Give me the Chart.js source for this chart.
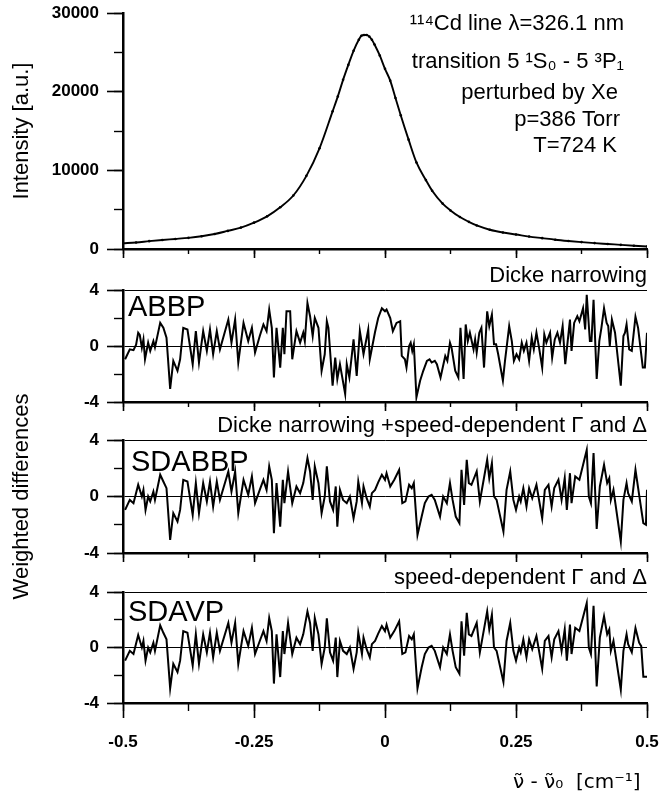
<!DOCTYPE html>
<html lang="en">
<head>
<meta charset="UTF-8" />
<title>114Cd line profile and weighted differences</title>
<script src="https://cdn.jsdelivr.net/npm/chart.js"></script>
<style>
  html, body { margin: 0; padding: 0; background: #fff; overflow: hidden; }
  #wrap { position: relative; width: 660px; height: 791px; }
  #wrap canvas { position: absolute; left: 0; }
</style>
</head>
<body>
<div id="wrap">
  <canvas id="c1" width="660" height="262" style="top:0px"></canvas>
  <canvas id="c2" width="660" height="160" style="top:255px"></canvas>
  <canvas id="c3" width="660" height="270" style="top:360px"></canvas>
  <canvas id="c4" width="660" height="250" style="top:550px"></canvas>
</div>

<script>
  // ---- data ----
  // measured line profile, x in cm^-1, intensity in a.u.
  const profileX = [-0.500,-0.475,-0.450,-0.425,-0.400,-0.375,-0.350,-0.325,-0.300,-0.275,
    -0.250,-0.225,-0.200,-0.175,-0.150,-0.125,-0.100,-0.090,-0.080,-0.070,-0.060,-0.050,
    -0.045,-0.040,-0.035,-0.030,-0.025,-0.020,-0.010,0.000,0.010,0.020,0.030,0.045,0.060,
    0.078,0.090,0.110,0.125,0.143,0.160,0.175,0.200,0.225,0.250,0.275,0.300,0.325,0.350,
    0.375,0.400,0.425,0.450,0.475,0.500];
  const profileY = [730,830,1000,1150,1280,1420,1620,1900,2300,2720,
    3350,4150,5300,6800,9300,12800,17500,19400,21500,23400,25200,26600,
    27100,27200,27200,27000,26600,26000,24600,22900,21400,19200,17000,13900,11000,
    8760,7400,5770,4900,4060,3450,2990,2450,2100,1850,1580,1380,1180,1020,
    880,750,640,530,420,320];

  // weighted differences [x, residual]
  const abbp = [[-0.496,-0.95],[-0.487,-0.24],[-0.480,-0.3],[-0.475,0.1],[-0.471,0.95],[-0.468,0.8],[-0.464,-0.12],[-0.461,0.47],[-0.458,-0.95],[-0.452,0.24],[-0.448,-0.35],[-0.442,0.35],[-0.439,-0.1],[-0.429,1.65],[-0.423,1.3],[-0.417,0.59],[-0.410,-3.07],[-0.404,-1.06],[-0.396,-1.77],[-0.391,-0.95],[-0.385,1.3],[-0.377,1.18],[-0.367,-1.3],[-0.361,1.06],[-0.355,-1.18],[-0.347,1.06],[-0.340,-0.35],[-0.334,1.18],[-0.328,-0.59],[-0.321,1.06],[-0.315,-0.24],[-0.299,1.89],[-0.293,0.24],[-0.286,1.89],[-0.280,-1.18],[-0.270,1.65],[-0.261,0.35],[-0.254,1.3],[-0.248,-0.47],[-0.239,0.71],[-0.232,1.54],[-0.226,1.06],[-0.221,2.6],[-0.216,1.3],[-0.212,-2.25],[-0.207,1.3],[-0.200,-1.54],[-0.195,1.3],[-0.192,-0.59],[-0.188,2.48],[-0.181,2.48],[-0.177,-0.95],[-0.169,1.06],[-0.162,0.24],[-0.156,0.95],[-0.153,0.35],[-0.148,3.07],[-0.143,2.13],[-0.138,0.71],[-0.134,2.0],[-0.127,1.3],[-0.121,-1.77],[-0.115,-0.59],[-0.111,1.77],[-0.108,1.3],[-0.100,-2.84],[-0.095,-0.83],[-0.091,-2.36],[-0.086,-1.3],[-0.076,-3.43],[-0.073,-1.3],[-0.068,-2.25],[-0.060,0.47],[-0.054,-2.13],[-0.048,1.06],[-0.041,-0.59],[-0.032,1.18],[-0.029,-0.95],[-0.019,1.0],[-0.013,2.0],[-0.006,2.7],[0.000,2.48],[0.003,2.6],[0.010,2.0],[0.015,1.06],[0.022,1.65],[0.029,1.77],[0.032,-0.71],[0.038,-0.95],[0.041,-1.54],[0.046,0.0],[0.049,0.24],[0.052,-0.35],[0.055,0.12],[0.060,-3.66],[0.067,-2.48],[0.073,-1.77],[0.080,-1.06],[0.085,-0.95],[0.089,-1.18],[0.095,-1.06],[0.099,-1.3],[0.106,-2.25],[0.115,-0.71],[0.119,-1.06],[0.124,0.24],[0.127,-0.12],[0.134,-1.77],[0.140,-2.25],[0.144,1.3],[0.150,-2.36],[0.154,1.54],[0.158,0.35],[0.162,0.95],[0.169,-0.24],[0.172,0.47],[0.175,-0.47],[0.180,0.95],[0.184,1.3],[0.189,-1.54],[0.195,2.48],[0.199,1.42],[0.204,2.25],[0.208,0.12],[0.212,0.12],[0.216,-0.59],[0.225,-2.48],[0.229,-1.06],[0.237,1.42],[0.242,0.35],[0.246,-1.06],[0.251,-0.59],[0.256,-0.95],[0.261,0.24],[0.265,-0.35],[0.270,0.24],[0.275,-1.06],[0.280,0.59],[0.284,-0.24],[0.289,0.95],[0.294,-0.12],[0.300,-1.54],[0.304,0.83],[0.308,0.24],[0.315,0.95],[0.319,-0.83],[0.324,0.47],[0.329,0.95],[0.334,0.24],[0.339,1.42],[0.344,-1.3],[0.353,1.89],[0.356,-0.35],[0.361,1.65],[0.367,2.13],[0.371,1.77],[0.378,2.7],[0.382,1.18],[0.385,3.66],[0.391,0.35],[0.394,0.35],[0.398,3.3],[0.404,-2.36],[0.409,0.35],[0.413,1.3],[0.418,2.7],[0.423,1.65],[0.426,1.42],[0.429,0.0],[0.433,1.89],[0.439,0.95],[0.450,-2.84],[0.455,0.71],[0.458,0.95],[0.461,1.54],[0.466,-0.24],[0.471,-0.35],[0.478,2.1],[0.483,1.3],[0.492,-1.54],[0.496,-1.54],[0.500,0.95]];

  const sdabbp = [[-0.496,-0.95],[-0.487,-0.24],[-0.480,-0.47],[-0.471,0.83],[-0.464,0],[-0.461,0.47],[-0.457,-0.95],[-0.452,0],[-0.448,-0.35],[-0.442,0.35],[-0.439,-0.24],[-0.429,1.54],[-0.423,1.06],[-0.417,0.59],[-0.410,-3.07],[-0.404,-1.18],[-0.396,-1.77],[-0.391,-0.95],[-0.385,1.18],[-0.377,1.06],[-0.367,-1.3],[-0.361,0.95],[-0.355,-1.18],[-0.347,0.95],[-0.340,-0.35],[-0.334,1.06],[-0.328,-0.71],[-0.321,1.06],[-0.315,-0.24],[-0.299,1.77],[-0.293,0.35],[-0.286,1.77],[-0.280,-1.18],[-0.270,1.18],[-0.261,0.12],[-0.254,1.42],[-0.248,-0.47],[-0.239,0.47],[-0.232,1.18],[-0.226,0.47],[-0.221,2.13],[-0.216,1.18],[-0.212,-2.6],[-0.207,0.95],[-0.200,-2.13],[-0.195,1.18],[-0.192,-0.47],[-0.185,1.77],[-0.177,-0.47],[-0.169,0.71],[-0.162,0.24],[-0.156,0.95],[-0.148,2.72],[-0.143,1.77],[-0.138,-0.24],[-0.134,2.13],[-0.127,0.95],[-0.121,-1.18],[-0.115,0],[-0.111,2.13],[-0.105,-0.35],[-0.099,-0.95],[-0.094,0.71],[-0.091,-2.13],[-0.086,0.47],[-0.080,-0.24],[-0.073,-0.47],[-0.067,0],[-0.060,-1.54],[-0.054,-0.35],[-0.051,1.06],[-0.044,-0.47],[-0.041,0.71],[-0.035,-0.12],[-0.029,-0.71],[-0.025,0.24],[-0.019,0.47],[-0.013,1.0],[-0.006,1.54],[0.000,1.18],[0.003,1.65],[0.010,0.71],[0.018,1.2],[0.027,1.89],[0.033,-0.47],[0.039,-0.35],[0.046,0.83],[0.051,0.59],[0.055,0.95],[0.062,-2.72],[0.070,-1.42],[0.076,-0.47],[0.083,0],[0.089,0.12],[0.095,-0.24],[0.105,-1.42],[0.111,0],[0.118,-0.47],[0.124,0.95],[0.129,-0.24],[0.135,-1.42],[0.142,-1.89],[0.146,1.89],[0.151,-0.59],[0.156,2.6],[0.160,0.95],[0.165,0.83],[0.175,1.77],[0.181,-0.35],[0.195,2.6],[0.199,1.3],[0.204,2.36],[0.208,0],[0.213,-0.24],[0.226,-2.48],[0.232,0.47],[0.239,1.77],[0.245,-0.24],[0.250,-0.95],[0.256,0],[0.259,-0.35],[0.264,0.59],[0.270,-0.71],[0.275,0.59],[0.281,-0.12],[0.289,0.83],[0.300,-1.54],[0.305,0.47],[0.312,0.83],[0.318,-0.71],[0.323,0.59],[0.331,1.18],[0.337,-0.24],[0.343,1.3],[0.347,-0.95],[0.353,1.65],[0.356,-0.47],[0.363,1.42],[0.371,1.18],[0.385,3.3],[0.389,0],[0.393,-0.47],[0.398,3.07],[0.404,-2.3],[0.410,0.71],[0.418,2.25],[0.424,0.95],[0.428,1.3],[0.431,-0.24],[0.436,0.47],[0.450,-3.2],[0.455,-0.24],[0.461,0.95],[0.464,0.24],[0.471,-0.35],[0.478,1.89],[0.485,0.12],[0.493,-1.89],[0.498,-2.0],[0.500,0.47]];

  const sdavp = [[-0.496,-0.95],[-0.487,-0.24],[-0.480,-0.47],[-0.471,0.9],[-0.464,0],[-0.461,0.47],[-0.457,-0.95],[-0.452,0],[-0.448,-0.35],[-0.442,0.35],[-0.439,-0.24],[-0.429,1.6],[-0.423,1.06],[-0.417,0.59],[-0.410,-2.95],[-0.404,-1.18],[-0.396,-1.77],[-0.391,-0.95],[-0.385,1.18],[-0.377,1.06],[-0.367,-1.3],[-0.361,0.95],[-0.355,-1.18],[-0.347,0.95],[-0.340,-0.35],[-0.334,1.06],[-0.328,-0.71],[-0.321,1.06],[-0.315,-0.24],[-0.299,1.77],[-0.293,0.35],[-0.286,1.77],[-0.280,-1.18],[-0.270,1.18],[-0.261,0.12],[-0.254,1.42],[-0.248,-0.47],[-0.239,0.47],[-0.232,1.18],[-0.226,0.47],[-0.221,2.13],[-0.216,1.18],[-0.212,-2.6],[-0.207,0.95],[-0.200,-2.13],[-0.195,1.18],[-0.192,-0.47],[-0.185,1.77],[-0.177,-0.47],[-0.169,0.71],[-0.162,0.24],[-0.156,0.95],[-0.148,2.6],[-0.143,1.77],[-0.138,-0.24],[-0.134,2.13],[-0.127,0.95],[-0.121,-1.18],[-0.115,0],[-0.111,2.1],[-0.105,-0.35],[-0.099,-0.95],[-0.094,0.71],[-0.091,-2.13],[-0.086,0.47],[-0.080,-0.24],[-0.073,-0.47],[-0.067,0],[-0.060,-1.54],[-0.054,-0.35],[-0.051,1.06],[-0.044,-0.47],[-0.041,0.71],[-0.035,-0.12],[-0.029,-0.71],[-0.025,0.24],[-0.019,0.47],[-0.013,1.0],[-0.006,1.54],[0.000,1.18],[0.003,1.65],[0.010,0.71],[0.018,1.2],[0.027,1.89],[0.033,-0.47],[0.039,-0.35],[0.046,0.83],[0.051,0.59],[0.055,0.95],[0.062,-2.95],[0.070,-1.42],[0.076,-0.47],[0.083,0],[0.089,0.12],[0.095,-0.24],[0.105,-1.42],[0.111,0],[0.118,-0.47],[0.124,0.95],[0.129,-0.24],[0.135,-1.42],[0.142,-1.89],[0.146,1.89],[0.151,-0.59],[0.156,2.5],[0.160,0.95],[0.165,0.83],[0.175,1.77],[0.181,-0.35],[0.195,2.6],[0.199,1.3],[0.204,2.36],[0.208,0],[0.213,-0.24],[0.226,-2.48],[0.232,0.47],[0.239,1.77],[0.245,-0.24],[0.250,-0.95],[0.256,0],[0.259,-0.35],[0.264,0.59],[0.270,-0.71],[0.275,0.59],[0.281,-0.12],[0.289,0.83],[0.300,-1.54],[0.305,0.47],[0.312,0.83],[0.318,-0.71],[0.323,0.59],[0.331,1.18],[0.337,-0.24],[0.343,1.3],[0.347,-0.95],[0.353,1.65],[0.356,-0.47],[0.363,1.42],[0.371,1.18],[0.385,3.2],[0.389,0],[0.393,-0.47],[0.398,3.0],[0.404,-2.8],[0.410,0.71],[0.418,2.25],[0.424,0.95],[0.428,1.3],[0.431,-0.24],[0.436,0.47],[0.450,-3.05],[0.455,-0.24],[0.461,0.95],[0.464,0.24],[0.471,-0.35],[0.478,1.4],[0.485,0.35],[0.489,0.1],[0.493,-2.1],[0.500,-2.1]];

  const xTicksMajor = 0.25, xTicksMinor = 0.125;

  // ---- shared look ----
  const FONT = '"Liberation Sans", Arial, Helvetica, sans-serif';
  Chart.defaults.font.family = FONT;
  Chart.defaults.color = '#000';

  const fmtX = v => (Math.abs(v) < 1e-9 ? '0' : String(+v.toFixed(2)));

  // text drawn inside / around a panel, relative to the chart area
  function textPlugin(items) {
    return {
      id: 'panelText',
      afterDraw(chart) {
        const { ctx, chartArea } = chart;
        ctx.save();
        ctx.fillStyle = '#000';
        ctx.textBaseline = 'middle';
        items.forEach(t => {
          ctx.font = t.size + 'px ' + FONT;
          ctx.textAlign = t.align;
          const x = t.align === 'right' ? chartArea.right + t.dx : chartArea.left + t.dx;
          ctx.fillText(t.text, x, chartArea.top + t.dy);
        });
        ctx.restore();
      }
    };
  }

  // fixed axis boxes so the four panels line up exactly
  function fixX(h) {
    return s => { s.height = h; s.paddingLeft = 0; s.paddingRight = 0; };
  }
  function fixY(w) {
    return s => { s.width = w; s.paddingTop = 0; s.paddingBottom = 0; };
  }

  function xScales(bottom, height) {
    return {
      x: {
        type: 'linear', position: 'bottom', weight: 1, min: -0.5, max: 0.5,
        border: { display: true, width: 2.5, color: '#000' },
        grid: { drawOnChartArea: false, tickLength: bottom ? 15 : 9, tickColor: '#000', tickWidth: 1.6 },
        ticks: { stepSize: xTicksMajor, display: bottom, autoSkip: false, padding: 14,
                 font: { size: 17, weight: 'bold' }, callback: fmtX },
        title: bottom
          ? { display: true, text: 'ν̃ - ν̃₀  [cm⁻¹] ', align: 'end',
              font: { size: 20, family: '"DejaVu Sans", sans-serif' }, padding: { top: 0, bottom: 5 } }
          : { display: false },
        afterFit: fixX(height)
      },
      x2: {
        type: 'linear', position: 'bottom', weight: 0, min: -0.5, max: 0.5,
        border: { display: false },
        grid: { drawOnChartArea: false, tickLength: bottom ? 8 : 5, tickColor: '#000', tickWidth: 1.4 },
        ticks: { stepSize: xTicksMinor, display: false },
        afterFit: fixX(0)
      }
    };
  }

  function yScales(min, max, major, minor, gridAt, title) {
    return {
      y: {
        type: 'linear', position: 'left', weight: 1, min: min, max: max,
        border: { display: true, width: 2.5, color: '#000' },
        grid: {
          drawOnChartArea: gridAt.length > 0,
          color: c => (c.tick && gridAt.includes(c.tick.value)) ? '#000' : 'rgba(0,0,0,0)',
          lineWidth: 1, tickLength: 16, tickColor: '#000', tickWidth: 1.6
        },
        ticks: { stepSize: major, padding: 8, font: { size: 17, weight: 'bold' }, callback: v => String(v) },
        title: title
          ? { display: true, text: title, font: { size: 22 }, padding: { top: 9, bottom: 0 } }
          : { display: false },
        afterFit: fixY(123)
      },
      y2: {
        type: 'linear', position: 'left', weight: 0, min: min, max: max,
        border: { display: false },
        grid: { drawOnChartArea: false, tickLength: 9, tickColor: '#000', tickWidth: 1.4 },
        ticks: { stepSize: minor, display: false },
        afterFit: fixY(0)
      }
    };
  }

  const toPoints = pairs => pairs.map(p => ({ x: p[0], y: p[1] }));

  // ---- panel 1: line profile ----
  new Chart(document.getElementById('c1'), {
    type: 'line',
    data: {
      datasets: [{
        data: profileX.map((x, i) => ({ x: x, y: profileY[i] })),
        borderColor: '#000', borderWidth: 1.9,
        pointRadius: 1.3, pointBackgroundColor: '#000', pointBorderWidth: 0,
        cubicInterpolationMode: 'monotone'
      }]
    },
    options: {
      responsive: false, animation: false,
      layout: { padding: { top: 13, right: 13, left: 0, bottom: 0 } },
      plugins: { legend: { display: false }, tooltip: { enabled: false } },
      scales: Object.assign(xScales(false, 13), yScales(0, 30000, 10000, 5000, [], 'Intensity [a.u.]'))
    },
    plugins: [textPlugin([
      { text: '¹¹⁴Cd line λ=326.1 nm', dx: -23, dy: 11, align: 'right', size: 22 },
      { text: 'transition 5 ¹S₀ - 5 ³P₁', dx: -23, dy: 49, align: 'right', size: 22 },
      { text: 'perturbed by Xe ', dx: -23, dy: 80, align: 'right', size: 22 },
      { text: 'p=386 Torr', dx: -27, dy: 107, align: 'right', size: 22 },
      { text: 'T=724 K', dx: -30, dy: 133, align: 'right', size: 22 }
    ])]
  });

  // ---- residual panels ----
  function residualChart(id, series, heading, label, labelDx, labelDy, padTop, padBottom, xHeight, bottom, yTitle) {
    new Chart(document.getElementById(id), {
      type: 'line',
      data: {
        datasets: [{
          data: toPoints(series),
          borderColor: '#000', borderWidth: 2, pointRadius: 0, tension: 0
        }]
      },
      options: {
        responsive: false, animation: false,
        layout: { padding: { top: padTop, right: 13, left: 0, bottom: padBottom } },
        plugins: {
          legend: { display: false }, tooltip: { enabled: false },
          title: { display: true, text: heading, align: 'end', color: '#000',
                   font: { size: 22, weight: 'normal' }, padding: { top: 0, bottom: 1 } }
        },
        scales: Object.assign(xScales(bottom, xHeight), yScales(-4, 4, 4, 2, [0, 4], yTitle))
      },
      plugins: [textPlugin([{ text: label, dx: labelDx, dy: labelDy, align: 'left', size: 29 }])]
    });
  }

  residualChart('c2', abbp, 'Dicke narrowing', 'ABBP', 5, 18, 7.6, 0, 13, false, null);
  residualChart('c3', sdabbp, 'Dicke narrowing +speed-dependent Γ and Δ', 'SDABBP', 8, 23, 52.6, 64, 13, false, 'Weighted differences');
  residualChart('c4', sdavp, 'speed-dependent Γ and Δ', 'SDAVP', 5, 21, 14.6, 0, 97, true, null);
</script>
</body>
</html>
